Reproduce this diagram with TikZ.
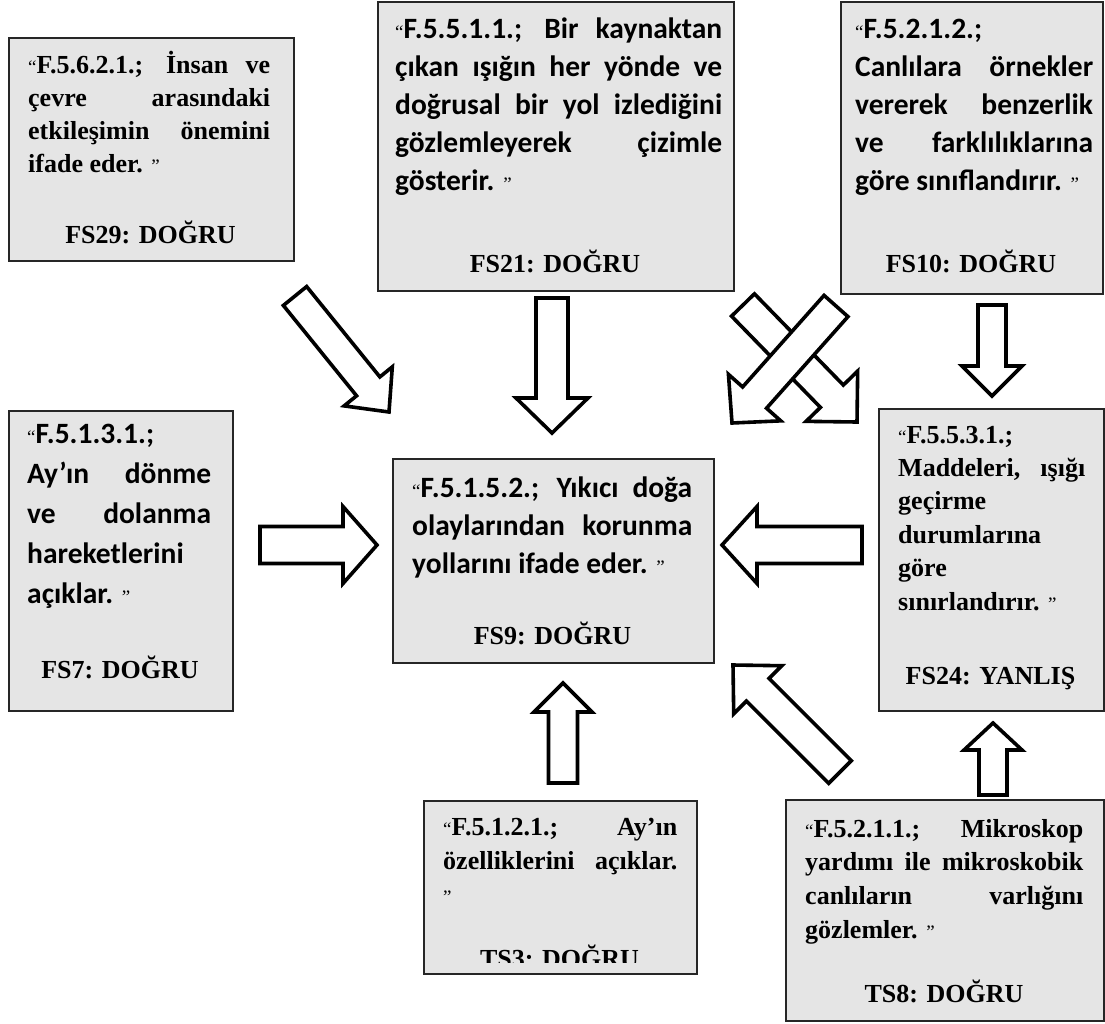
\documentclass[tikz,border=0pt]{standalone}
\usepackage{fontspec}
\setmainfont{Liberation Serif}
\newfontfamily\calfont{Carlito}
\usetikzlibrary{calc}

% small opening / closing quotation marks set in the regular serif
\newcommand\oq{{\normalfont\fontsize{19}{19}\selectfont “}}
\newcommand\cq{{\normalfont\fontsize{19}{19}\selectfont ”}}
% a justified line and a line at its natural width
\newcommand\jl[1]{\hbox to\hsize{#1}}
\newcommand\nl[1]{\hbox{#1}}
% a block of lines: width, line distance, lines
\newcommand\lineblock[3]{\vtop{\hsize=#1\baselineskip=#2\lineskiplimit=-\maxdimen #3}}

% hollow block arrow: tail, tip, half shaft width, half head width, head length
\newcommand\fatarrow[5]{%
  \coordinate (hb) at ($(#2)!#5!(#1)$);
  \draw[fat arrow] ($(#1)!#3!90:(#2)$) -- ($(hb)!#3!90:(#2)$) -- ($(hb)!#4!90:(#2)$)
    -- (#2) -- ($(hb)!#4!-90:(#2)$) -- ($(hb)!#3!-90:(#2)$) -- ($(#1)!#3!-90:(#2)$) -- cycle;
}

\tikzset{
  card/.style={draw=black!85, line width=1.8pt, fill=black!10, inner sep=0pt, anchor=north west},
  serifbody/.style={inner sep=0pt, anchor=base west, font=\fontsize{26}{33}\selectfont\bfseries},
  calbody/.style={inner sep=0pt, anchor=base west, font=\calfont\fontsize{29.5}{38}\selectfont\bfseries},
  tag/.style={inner sep=0pt, anchor=base, font=\fontsize{26}{30}\selectfont\bfseries},
  fat arrow/.style={draw=black, fill=white, line width=3.6pt, line join=miter},
}

\begin{document}
\begin{tikzpicture}[x=1pt, y=-1pt]
\useasboundingbox (0,0) rectangle (1105,1023);

% ---------- boxes ----------
\node[card, minimum width=285pt, minimum height=223pt] (fs29) at (8,37) {};
\node[card, minimum width=356pt, minimum height=289pt] (fs21) at (377,1) {};
\node[card, minimum width=262pt, minimum height=292pt] (fs10) at (840,1) {};
\node[card, minimum width=224pt, minimum height=300pt] (fs7) at (8,410) {};
\node[card, minimum width=321pt, minimum height=204pt] (fs9) at (392,458) {};
\node[card, minimum width=225pt, minimum height=302pt] (fs24) at (878,408) {};
\node[card, minimum width=273pt, minimum height=173pt] (ts3) at (423,800) {};
\node[card, minimum width=318pt, minimum height=221pt] (ts8) at (785,799) {};

% ---------- box texts ----------
\node[serifbody] (fs29-body) at (28,73) {\lineblock{242pt}{33.3pt}{%
  \jl{\oq F.5.6.2.1.; İnsan ve}
  \jl{çevre arasındaki}
  \jl{etkileşimin önemini}
  \nl{ifade eder. \cq}}};
\node[tag] (fs29-tag) at (150.5,243) {FS29: DOĞRU};

\node[calbody] (fs21-body) at (395,38) {\lineblock{327pt}{38pt}{%
  \jl{\oq F.5.5.1.1.; Bir kaynaktan}
  \jl{çıkan ışığın her yönde ve}
  \jl{doğrusal bir yol izlediğini}
  \jl{gözlemleyerek çizimle}
  \nl{gösterir. \cq}}};
\node[tag] (fs21-tag) at (555,272) {FS21: DOĞRU};

\node[calbody] (fs10-body) at (855,38) {\lineblock{238pt}{38pt}{%
  \nl{\oq F.5.2.1.2.;}
  \jl{Canlılara örnekler}
  \jl{vererek benzerlik}
  \jl{ve farklılıklarına}
  \nl{göre sınıflandırır. \cq}}};
\node[tag] (fs10-tag) at (971,272) {FS10: DOĞRU};

\node[calbody] (fs7-body) at (27,443) {\lineblock{184pt}{40pt}{%
  \nl{\oq F.5.1.3.1.;}
  \jl{Ay’ın dönme}
  \jl{ve dolanma}
  \nl{hareketlerini}
  \nl{açıklar. \cq}}};
\node[tag] (fs7-tag) at (120,678) {FS7: DOĞRU};

\node[calbody] (fs9-body) at (412,497) {\lineblock{280pt}{38pt}{%
  \jl{\oq F.5.1.5.2.; Yıkıcı doğa}
  \jl{olaylarından korunma}
  \nl{yollarını ifade eder. \cq}}};
\node[tag] (fs9-tag) at (552.5,644) {FS9: DOĞRU};

\node[serifbody] (fs24-body) at (898,443) {\lineblock{187pt}{33.4pt}{%
  \nl{\oq F.5.5.3.1.;}
  \jl{Maddeleri, ışığı}
  \nl{geçirme}
  \nl{durumlarına}
  \nl{göre}
  \nl{sınırlandırır. \cq}}};
\node[tag] (fs24-tag) at (990.5,684) {FS24: YANLIŞ};

\node[serifbody] (ts3-body) at (443,835) {\lineblock{234pt}{34pt}{%
  \jl{\oq F.5.1.2.1.; Ay’ın}
  \jl{özelliklerini açıklar.}
  \nl{\cq}}};
\begin{scope}
  \clip (424,801) rectangle (695,962);
  \node[tag] (ts3-tag) at (559.5,967) {TS3: DOĞRU};
\end{scope}

\node[serifbody] (ts8-body) at (805,837) {\lineblock{278pt}{33.7pt}{%
  \jl{\oq F.5.2.1.1.; Mikroskop}
  \jl{yardımı ile mikroskobik}
  \jl{canlıların varlığını}
  \nl{gözlemler. \cq}}};
\node[tag] (ts8-tag) at (944,1002) {TS8: DOĞRU};

% ---------- arrow end points ----------
\coordinate (fs29-out) at (295,296);   \coordinate (fs9-nw)  at (389,412);
\coordinate (fs21-out) at (552,298);   \coordinate (fs9-n)   at (552,433);
\coordinate (fs21-x)   at (743,305);   \coordinate (fs24-nw) at (857,422);
\coordinate (fs10-x)   at (836,306);   \coordinate (fs9-ne)  at (732,423);
\coordinate (fs10-out) at (992,305);   \coordinate (fs24-n)  at (992,396);
\coordinate (fs7-out)  at (260,545);   \coordinate (fs9-w)   at (377,545);
\coordinate (fs24-out) at (862,545);   \coordinate (fs9-e)   at (722,545);
\coordinate (ts3-out)  at (563,783);   \coordinate (fs9-s)   at (563,683);
\coordinate (ts8-up)   at (993,795);   \coordinate (fs24-s)  at (993,723);
\coordinate (ts8-diag) at (840,772);   \coordinate (fs9-se)  at (733,665);

% ---------- arrows ----------
\fatarrow{fs29-out}{fs9-nw}{15pt}{31pt}{33pt}
\fatarrow{fs21-out}{fs9-n}{16pt}{36pt}{35pt}
\fatarrow{fs21-x}{fs24-nw}{16pt}{36pt}{36pt}
\fatarrow{fs10-x}{fs9-ne}{16pt}{35pt}{34pt}
\fatarrow{fs10-out}{fs24-n}{14pt}{30pt}{30pt}
\fatarrow{fs7-out}{fs9-w}{18.5pt}{38.5pt}{34pt}
\fatarrow{fs24-out}{fs9-e}{18.5pt}{38.5pt}{35pt}
\fatarrow{ts3-out}{fs9-s}{14.5pt}{29pt}{29pt}
\fatarrow{ts8-up}{fs24-s}{14pt}{29pt}{27pt}
\fatarrow{ts8-diag}{fs9-se}{16pt}{34pt}{35pt}
\end{tikzpicture}
\end{document}
